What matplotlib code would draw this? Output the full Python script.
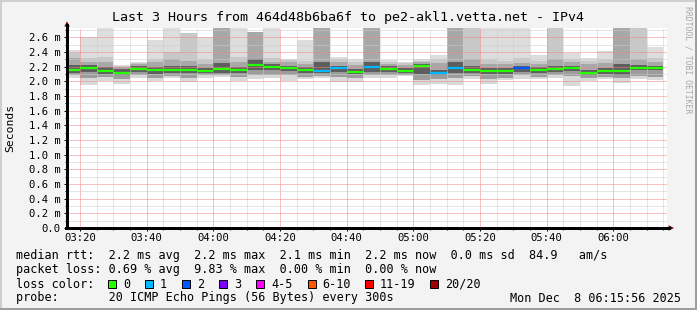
import matplotlib
matplotlib.use("Agg")
import matplotlib.pyplot as plt
from matplotlib.patches import Rectangle, Polygon
from matplotlib.lines import Line2D
import numpy as np

plt.rcParams["lines.scale_dashes"] = False

W, H, DPI = 697, 310, 100
MONO = "DejaVu Sans Mono"

# ---------------- data ----------------
title = "Last 3 Hours from 464d48b6ba6f to pe2-akl1.vetta.net - IPv4"
# bar start times (minutes after 03:00), 5 minute steps
bar_start = [15 + 5 * i for i in range(36)]
# smoke levels per 5-min bin (ms)
p_max = [2.43, 2.60, 2.80, 2.22, 2.27, 2.56, 2.80, 2.66, 2.60, 2.80, 2.80, 2.67,
         2.80, 2.31, 2.56, 2.80, 2.33, 2.31, 2.80, 2.29, 2.26, 2.30, 2.36, 2.80,
         2.80, 2.80, 2.80, 2.80, 2.36, 2.80, 2.39, 2.32, 2.42, 2.80, 2.80, 2.47]
hi_light = [2.38, 2.32, 2.33, 2.21, 2.25, 2.31, 2.40, 2.66, 2.30, 2.80, 2.33, 2.67,
            2.32, 2.29, 2.28, 2.80, 2.30, 2.27, 2.80, 2.27, 2.25, 2.28, 2.30, 2.80,
            2.80, 2.30, 2.28, 2.32, 2.28, 2.80, 2.31, 2.28, 2.30, 2.80, 2.80, 2.32]
hi_mid = [2.32, 2.27, 2.27, 2.20, 2.24, 2.26, 2.30, 2.28, 2.24, 2.80, 2.27, 2.67,
          2.27, 2.26, 2.24, 2.80, 2.26, 2.22, 2.80, 2.24, 2.22, 2.26, 2.25, 2.80,
          2.30, 2.24, 2.23, 2.25, 2.24, 2.30, 2.26, 2.23, 2.25, 2.80, 2.30, 2.26]
hi_dark = [2.22, 2.22, 2.19, 2.17, 2.21, 2.20, 2.21, 2.21, 2.18, 2.25, 2.20, 2.30,
           2.23, 2.21, 2.20, 2.26, 2.21, 2.17, 2.27, 2.21, 2.18, 2.23, 2.16, 2.26,
           2.21, 2.18, 2.18, 2.21, 2.19, 2.21, 2.21, 2.15, 2.18, 2.24, 2.22, 2.21]
median = [2.15, 2.18, 2.14, 2.12, 2.17, 2.16, 2.16, 2.16, 2.14, 2.17, 2.16, 2.22,
          2.20, 2.18, 2.16, 2.14, 2.18, 2.13, 2.19, 2.17, 2.14, 2.21, 2.11, 2.18,
          2.16, 2.14, 2.14, 2.18, 2.15, 2.17, 2.18, 2.11, 2.14, 2.14, 2.18, 2.18]
lo_dark = [2.12, 2.13, 2.10, 2.09, 2.13, 2.10, 2.11, 2.11, 2.11, 2.12, 2.12, 2.16,
           2.15, 2.14, 2.12, 2.11, 2.13, 2.10, 2.13, 2.13, 2.11, 2.10, 2.08, 2.12,
           2.12, 2.10, 2.10, 2.13, 2.11, 2.13, 2.14, 2.09, 2.10, 2.09, 2.15, 2.15]
lo_mid = [2.08, 2.04, 2.06, 2.03, 2.09, 2.04, 2.07, 2.05, 2.08, 2.09, 2.06, 2.08,
          2.08, 2.08, 2.06, 2.07, 2.06, 2.05, 2.09, 2.09, 2.09, 2.02, 2.03, 2.04,
          2.07, 2.03, 2.05, 2.08, 2.06, 2.08, 2.07, 2.05, 2.06, 2.04, 2.07, 2.06]
p_min = [2.05, 1.95, 2.01, 1.97, 2.04, 2.00, 2.04, 1.99, 2.05, 2.06, 2.00, 2.03,
         2.04, 2.01, 2.03, 2.04, 1.99, 1.99, 2.05, 2.05, 2.07, 1.95, 1.97, 1.95,
         2.03, 1.97, 2.02, 2.03, 2.03, 2.05, 1.94, 2.01, 2.03, 1.98, 2.03, 2.02]
loss_class = [0, 0, 0, 0, 0, 0, 0, 0, 0, 0, 0, 0,
              0, 0, 0, 1, 1, 0, 1, 0, 0, 0, 1, 1,
              0, 0, 0, 2, 0, 0, 0, 0, 0, 0, 0, 0]

loss_labels = ["0", "1", "2", "3", "4-5", "6-10", "11-19", "20/20"]
loss_colors = ["#26ff00", "#00b8ff", "#0059ff", "#7e00ff",
               "#ff00ff", "#ff5500", "#ff0000", "#a10000"]

rtt_stats = "median rtt:  2.2 ms avg  2.2 ms max  2.1 ms min  2.2 ms now  0.0 ms sd  84.9   am/s"
loss_stats = "packet loss: 0.69 % avg  9.83 % max  0.00 % min  0.00 % now"
probe_text = "probe:       20 ICMP Echo Pings (56 Bytes) every 300s"
date_text = "Mon Dec  8 06:15:56 2025"

y_ticks = [0.0, 0.2, 0.4, 0.6, 0.8, 1.0, 1.2, 1.4, 1.6, 1.8, 2.0, 2.2, 2.4, 2.6]
x_ticks = [20, 40, 60, 80, 100, 120, 140, 160, 180]

# ---------------- figure ----------------
def fx(px):
    return px / W

def fy(py):
    return 1 - py / H

fig = plt.figure(figsize=(W / DPI, H / DPI), dpi=DPI, facecolor="#f3f3f3")
ax = fig.add_axes([fx(67), fy(228), 600 / W, 200 / H])
ax.set_facecolor("white")
x0 = 16.1
ax.set_xlim(x0, x0 + 180)
ymax = 200 / 73.33
ax.set_ylim(0, ymax)

bands = [
    (p_min, lo_mid, "#d9d9d9"),
    (lo_mid, lo_dark, "#9c9c9c"),
    (lo_dark, median, "#5e5e5e"),
    (median, hi_dark, "#5e5e5e"),
    (hi_dark, hi_mid, "#a8a8a8"),
    (hi_mid, hi_light, "#c8c8c8"),
    (hi_light, p_max, "#dddddd"),
]
xs = np.array(bar_start, dtype=float)
for lo, hi, col in bands:
    lo = np.array(lo)
    hi = np.array(hi)
    ax.bar(xs, hi - lo, bottom=lo, width=5, align="edge", color=col,
           linewidth=0, zorder=1)

# median lines coloured by loss
med_cols = [loss_colors[c] for c in loss_class]
ax.hlines(median, xs, xs + 5, colors=med_cols, linewidth=1.6, zorder=3)

# grid
ax.set_xticks(x_ticks)
ax.set_xticks([m for m in range(20, 196, 5) if m % 20 != 0], minor=True)
ax.set_yticks(y_ticks)
ax.set_yticks([0.1 + 0.2 * i for i in range(14)], minor=True)
ax.set_axisbelow("line")
dots = (0, (0.72, 0.72))
ax.grid(which="major", color="#f08484", linestyle=dots, linewidth=0.72)
ax.grid(which="minor", color="#cccccc", linestyle=dots, linewidth=0.72)

ax.set_xticklabels([f"{3 + m // 60:02d}:{m % 60:02d}" for m in x_ticks],
                   fontfamily=MONO, fontsize=7.6)
ax.set_yticklabels(["0.0" if v == 0 else f"{v:.1f} m" for v in y_ticks],
                   fontfamily=MONO, fontsize=7.6)
ax.tick_params(which="major", direction="out", length=2.2, width=0.72,
               color="black", pad=2.5)
ax.tick_params(which="minor", direction="out", length=1.4, width=0.72,
               color="black")
ax.tick_params(axis="x", which="major", pad=1.5)

for s in ["top", "right", "left", "bottom"]:
    ax.spines[s].set_visible(False)

# axes lines and arrows
arrow_c = "#7f0000"
fig.add_artist(Line2D([fx(67), fx(67)], [fy(228), fy(25)], color="black",
                      linewidth=0.8, transform=fig.transFigure, antialiased=False))
fig.add_artist(Line2D([fx(66), fx(669)], [fy(228), fy(228)], color="black",
                      linewidth=0.8, transform=fig.transFigure, antialiased=False))
fig.add_artist(Polygon([[fx(64.2), fy(26.5)], [fx(69.8), fy(26.5)], [fx(67), fy(21.3)]],
                       closed=True, transform=fig.transFigure, facecolor=arrow_c,
                       edgecolor=arrow_c, linewidth=0))
fig.add_artist(Polygon([[fx(668.5), fy(225.2)], [fx(668.5), fy(230.8)], [fx(674), fy(228)]],
                       closed=True, transform=fig.transFigure, facecolor=arrow_c,
                       edgecolor=arrow_c, linewidth=0))

# texts
fig.text(fx(348), fy(18), title, ha="center", va="center",
         fontfamily=MONO, fontsize=9.6, color="black")
fig.text(fx(10), fy(128), "Seconds", ha="center", va="center", rotation=90,
         fontfamily=MONO, fontsize=8.2, color="black")
fig.text(fx(688), fy(60), "RRDTOOL / TOBI OETIKER", ha="center", va="center",
         rotation=270, fontfamily=MONO, fontsize=5.9, color="#a8a8a8")

LF = 8.5
fig.text(fx(16), fy(256), rtt_stats, ha="left", va="center", fontfamily=MONO, fontsize=LF)
fig.text(fx(16), fy(270), loss_stats, ha="left", va="center", fontfamily=MONO, fontsize=LF)
fig.text(fx(16), fy(284), "loss color:", ha="left", va="center", fontfamily=MONO, fontsize=LF)
fig.text(fx(16), fy(298), probe_text, ha="left", va="center", fontfamily=MONO, fontsize=LF)
fig.text(fx(681), fy(298), date_text, ha="right", va="center", fontfamily=MONO, fontsize=LF)

box_x = [108, 145, 182, 219, 256, 307.5, 365, 430]
for bx, lab, col in zip(box_x, loss_labels, loss_colors):
    fig.add_artist(Rectangle((fx(bx), fy(288)), 8 / W, 8 / H, transform=fig.transFigure,
                             facecolor=col, edgecolor="black", linewidth=0.7))
    fig.text(fx(bx + 15), fy(284), lab, ha="left", va="center",
             fontfamily=MONO, fontsize=LF)

# frame (shade)
fig.add_artist(Rectangle((0, fy(2)), 1, 2 / H, transform=fig.transFigure,
                         facecolor="#cfcfcf", linewidth=0))
fig.add_artist(Rectangle((0, 0), 2 / W, 1, transform=fig.transFigure,
                         facecolor="#cfcfcf", linewidth=0))
fig.add_artist(Rectangle((0, 0), 1, 2 / H, transform=fig.transFigure,
                         facecolor="#9e9e9e", linewidth=0))
fig.add_artist(Rectangle((fx(695), 0), 2 / W, 1, transform=fig.transFigure,
                         facecolor="#9e9e9e", linewidth=0))

fig.savefig("out.png", dpi=DPI, facecolor=fig.get_facecolor())
